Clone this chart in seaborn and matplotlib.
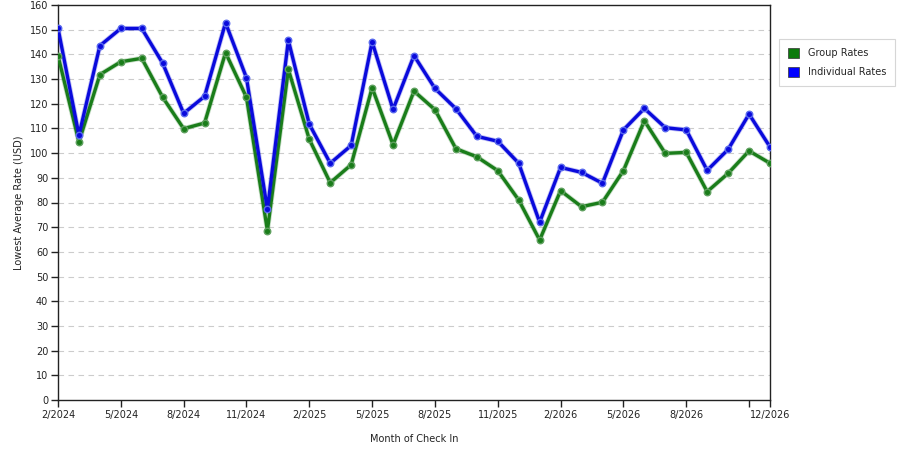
import numpy as np
import pandas as pd
import matplotlib
matplotlib.use("Agg")
import matplotlib.pyplot as plt
import matplotlib.patheffects as pe
from matplotlib.patches import Patch
import seaborn as sns

months = [f"{m}/{y}" for y, ms in [(2024, range(2, 13)), (2025, range(1, 13)), (2026, range(1, 13))] for m in ms]

group_rates = [139.5, 104.5, 131.8, 137.0, 138.4, 122.6, 109.9, 112.2, 140.7, 122.6, 68.6, 133.9,
               105.6, 88.0, 95.3, 126.5, 103.4, 125.1, 117.6, 101.8, 98.5, 92.9, 81.0, 64.8,
               84.8, 78.3, 80.1, 92.9, 113.1, 99.9, 100.3, 84.4, 91.8, 100.9, 95.9]
individual_rates = [150.6, 107.3, 143.5, 150.5, 150.5, 136.4, 116.1, 123.0, 152.8, 130.5, 77.2, 145.7,
                    111.7, 95.9, 103.1, 145.1, 117.7, 139.5, 126.2, 118.0, 106.8, 104.8, 95.9, 72.0,
                    94.2, 92.2, 87.8, 109.4, 118.1, 110.3, 109.4, 93.0, 101.5, 115.8, 102.5]

series_names = ["Group Rates", "Individual Rates"]
series_colors = ["#1a7d1a", "#0a0adc"]
marker_edges = ["#5fa05f", "#5a6aee"]
legend_colors = ["#0b7a0b", "#0000ff"]

df = pd.DataFrame({
    "idx": list(range(len(months))) * 2,
    "rate": group_rates + individual_rates,
    "series": [series_names[0]] * len(months) + [series_names[1]] * len(months),
})

sns.set_style("white")
plt.rcParams["font.family"] = ["DejaVu Sans"]

fig = plt.figure(figsize=(9, 4.5), dpi=100)
ax = fig.add_axes([58 / 900, 1 - 400 / 450, (770 - 58) / 900, (400 - 5) / 450])

for name, col, me in zip(series_names, series_colors, marker_edges):
    sub = df[df["series"] == name]
    sns.lineplot(data=sub, x="idx", y="rate", ax=ax, color=col, lw=2.4,
                 legend=False, zorder=3,
                 path_effects=[pe.Stroke(linewidth=3.6, foreground=col, alpha=0.25), pe.Normal()])
    sns.scatterplot(data=sub, x="idx", y="rate", ax=ax, color=col, s=22,
                    edgecolor=me, linewidth=1.0, legend=False, zorder=4)

ax.set_xlim(0, len(months) - 1)
ax.set_ylim(0, 160)
ax.set_yticks(np.arange(0, 161, 10))
ax.set_yticklabels([str(v) for v in range(0, 161, 10)], fontsize=7)
for v in range(10, 160, 10):
    ax.axhline(v, color="#cccccc", lw=0.8, ls=(0, (5, 4)), zorder=1)

xt = list(range(0, len(months), 3)) + [len(months) - 1]
xl = [months[i] for i in range(0, len(months), 3)]
xl[-1] = ""
xl.append(months[-1])
ax.set_xticks(xt)
ax.set_xticklabels(xl, fontsize=7)
ax.tick_params(axis="both", direction="out", length=5, width=1, color="#222222", pad=2,
               bottom=True, left=True, labelcolor="#222222")

for s in ax.spines.values():
    s.set_visible(True)
    s.set_color("#222222")
    s.set_linewidth(1)

ax.set_xlabel("Month of Check In", fontsize=7, color="#222222", labelpad=10)
ax.set_ylabel("Lowest Average Rate (USD)", fontsize=7, color="#222222", labelpad=4)

handles = [Patch(facecolor=c, edgecolor="#333333", lw=0.5) for c in legend_colors]
leg = fig.legend(handles, series_names, loc="upper left", bbox_to_anchor=(779 / 900, 1 - 39 / 450),
                 fontsize=7, frameon=True, fancybox=False, edgecolor="#cccccc",
                 handlelength=1.2, handleheight=1.2, borderpad=0.9, labelspacing=0.9,
                 handletextpad=0.9, borderaxespad=0)
leg.get_frame().set_linewidth(0.8)

fig.savefig("out.png", dpi=100)
